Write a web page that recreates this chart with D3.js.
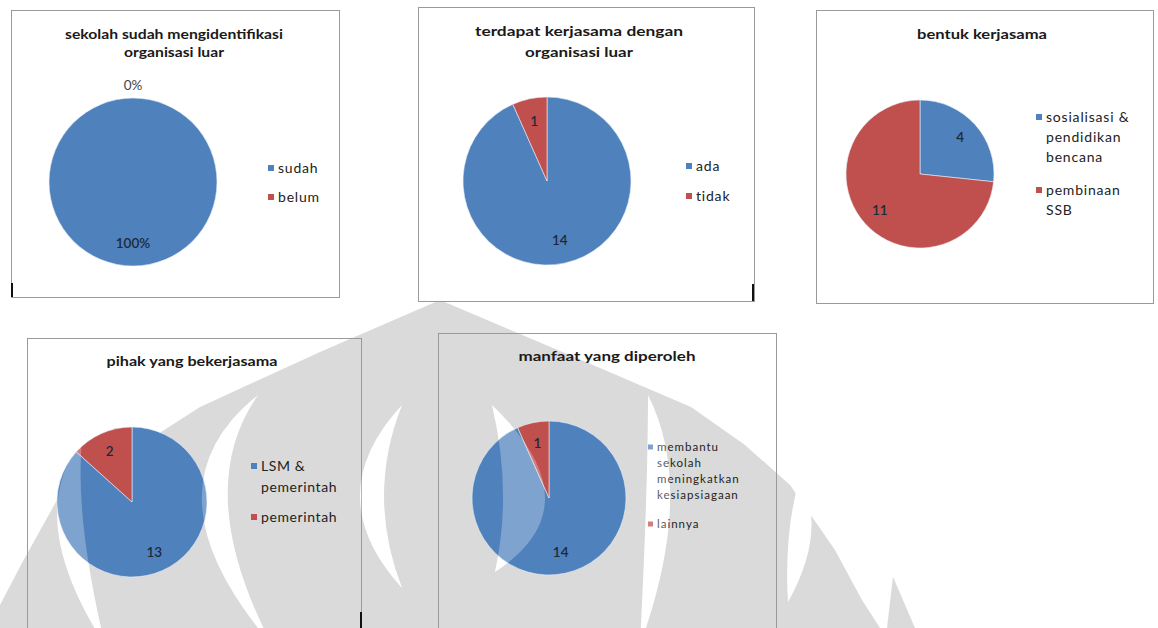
<!DOCTYPE html>
<html><head><meta charset="utf-8">
<script src="https://cdn.jsdelivr.net/npm/d3@7"></script>
<style>html,body{margin:0;padding:0;background:#fff}svg{display:block}</style>
</head><body><svg id="c" width="1158" height="628"></svg>
<script>
// ---------- DATA ----------
const c1Title = ["sekolah sudah mengidentifikasi", "organisasi luar"];
const c1Cats = ["sudah", "belum"];
const c1Vals = [100, 0];
const c1Labels = ["100%", "0%"];

const c2Title = ["terdapat kerjasama dengan", "organisasi luar"];
const c2Cats = ["ada", "tidak"];
const c2Vals = [14, 1];
const c2Labels = ["14", "1"];

const c3Title = ["bentuk kerjasama"];
const c3Cats = [["sosialisasi &", "pendidikan", "bencana"], ["pembinaan", "SSB"]];
const c3Vals = [4, 11];
const c3Labels = ["4", "11"];

const c4Title = ["pihak yang bekerjasama"];
const c4Cats = [["LSM &", "pemerintah"], ["pemerintah"]];
const c4Vals = [13, 2];
const c4Labels = ["13", "2"];

const c5Title = ["manfaat yang diperoleh"];
const c5Cats = [["membantu", "sekolah", "meningkatkan", "kesiapsiagaan"], ["lainnya"]];
const c5Vals = [14, 1];
const c5Labels = ["14", "1"];

const colors = ["#4F81BD", "#C0504D"];

// ---------- LAYOUT ----------
const panels = [
  {title:c1Title, cats:c1Cats, vals:c1Vals, labels:c1Labels, box:[11,10,328,287], fill:true, tcx:174,
   tY:[35,53], tW:[218,100], tFs:13, cx:133, cy:182, r:84, lx:268, ly:[168,197], lh:20, lFs:14, ls:0.8},
  {title:c2Title, cats:c2Cats, vals:c2Vals, labels:c2Labels, box:[418,7,336,294], fill:true, tcx:579,
   tY:[32,53], tW:[208,108], tFs:13, cx:547, cy:181, r:84, lx:686, ly:[166,196], lh:20, lFs:14, ls:0.8},
  {title:c3Title, cats:c3Cats, vals:c3Vals, labels:c3Labels, box:[816,10,337,293], fill:true, tcx:982,
   tY:[35], tW:[130], tFs:13, cx:920, cy:174, r:74, lx:1036, ly:[117,190], lh:20, lFs:14, ls:0.8},
  {title:c4Title, cats:c4Cats, vals:c4Vals, labels:c4Labels, box:[27,338,334,300], fill:false, tcx:192,
   tY:[362], tW:[171], tFs:13, cx:132, cy:502, r:75, lx:251, ly:[466,517], lh:21, lFs:14, ls:0.6},
  {title:c5Title, cats:c5Cats, vals:c5Vals, labels:c5Labels, box:[438,333,338,300], fill:false, tcx:607,
   tY:[357], tW:[177], tFs:13, cx:549, cy:498, r:77, lx:648, ly:[447,524], lh:16, lFs:11.5, ls:1}
];

const svg = d3.select("#c");
svg.append("rect").attr("width",1158).attr("height",628).attr("fill","#fff");

// ---------- WATERMARK (background logo) ----------
const wm = svg.append("g");
const outline = [[0,628],[0,605],[22,563],[57,500],[130,452],[200,407],[320,352],[440,300],
  [520,334],[600,368],[691,407],[745,445],[790,485],[835,550],[862,600],[880,628]];
wm.append("path").attr("d", d3.line()(outline)+"Z").attr("fill","#dadada");
wm.append("path").attr("d", d3.line()([[893,577],[915,628],[887,628]])+"Z").attr("fill","#dadada");

function crescent(top, bottom, outer, inner){
  const mx=(top[0]+bottom[0])/2, my=(top[1]+bottom[1])/2;
  const co=[2*outer[0]-mx, 2*outer[1]-my], ci=[2*inner[0]-mx, 2*inner[1]-my];
  const p=d3.path();
  p.moveTo(top[0],top[1]);
  p.quadraticCurveTo(co[0],co[1],bottom[0],bottom[1]);
  p.quadraticCurveTo(ci[0],ci[1],top[0],top[1]);
  p.closePath();
  return p.toString();
}
const crescents = [
  [[82,440],[105,645],[58,530],[84,530]],
  [[258,395],[272,645],[202,505],[228,505]],
  [[402,405],[402,588],[360,496],[384,496]],
  [[492,405],[495,572],[545,497],[503,490]],
  [[648,395],[640,645],[670,505],[646,505]],
  [[800,478],[788,602],[789,535],[811,535]]
];
crescents.forEach(c=>wm.append("path").attr("d",crescent(...c)).attr("fill","#fff"));

// ---------- PANELS ----------
const pie = d3.pie().sort(null).value(d=>d);
panels.forEach(P=>{
  const g = svg.append("g");
  const [bx,by,bw,bh]=P.box;
  g.append("rect").attr("x",bx+0.5).attr("y",by+0.5).attr("width",bw).attr("height",bh)
    .attr("fill",P.fill?"#fff":"none").attr("stroke","#9a9a9a").attr("stroke-width",1);
  P.title.forEach((t,i)=>{
    g.append("text").attr("x",P.tcx).attr("y",P.tY[i]+4)
      .attr("text-anchor","middle").attr("font-family","Lato, 'Open Sans', sans-serif")
      .attr("font-weight","bold").attr("font-size",P.tFs).attr("fill","#1a1a1a")
      .attr("textLength",P.tW[i]).attr("lengthAdjust","spacingAndGlyphs").text(t);
  });
  const arcs = pie(P.vals);
  const arc = d3.arc().innerRadius(0).outerRadius(P.r);
  g.selectAll("path.s").data(arcs).join("path").attr("class","s")
    .attr("transform",`translate(${P.cx},${P.cy})`)
    .attr("d",arc).attr("fill",(d,i)=>colors[i])
    .attr("stroke","#e8eef7").attr("stroke-width",d=>d.value>0?0.6:0);
  arcs.forEach((d,i)=>{
    const mid=(d.startAngle+d.endAngle)/2;
    const rr = d.value>0 ? P.r*0.73 : P.r+13;
    const x=P.cx+rr*Math.sin(mid), y=P.cy-rr*Math.cos(mid);
    g.append("text").attr("x",x).attr("y",y+4.5).attr("text-anchor","middle")
      .attr("font-family","Lato, 'Open Sans', sans-serif").attr("font-size",13.5)
      .attr("font-weight",d.value>0?"600":"normal")
      .attr("fill",d.value>0?"#1c2a3a":"#444").text(P.labels[i]);
  });
  // legend
  P.cats.forEach((c,i)=>{
    const lines = Array.isArray(c)?c:[c];
    const y0 = P.ly[i];
    const sq = P.lFs>=13?6:5;
    g.append("rect").attr("x",P.lx).attr("y",y0-sq/2).attr("width",sq).attr("height",sq).attr("fill",colors[i]);
    lines.forEach((ln,j)=>{
      g.append("text").attr("x",P.lx+sq+4).attr("y",y0+P.lFs*0.35+j*P.lh)
        .attr("font-family","Lato, 'Open Sans', sans-serif").attr("font-size",P.lFs)
        .attr("letter-spacing",P.ls)
        .attr("fill","#222").text(ln);
    });
  });
});

// lighten overlay of watermark over pies
crescents.forEach(c=>svg.append("path").attr("d",crescent(...c)).attr("fill","#fff").attr("opacity",0.27));

// small black marks
const marks=[[11,283,2,14],[752,284,2,17],[360,612,2,16]];
marks.forEach(m=>svg.append("rect").attr("x",m[0]).attr("y",m[1]).attr("width",m[2]).attr("height",m[3]).attr("fill","#111"));
</script></body></html>
